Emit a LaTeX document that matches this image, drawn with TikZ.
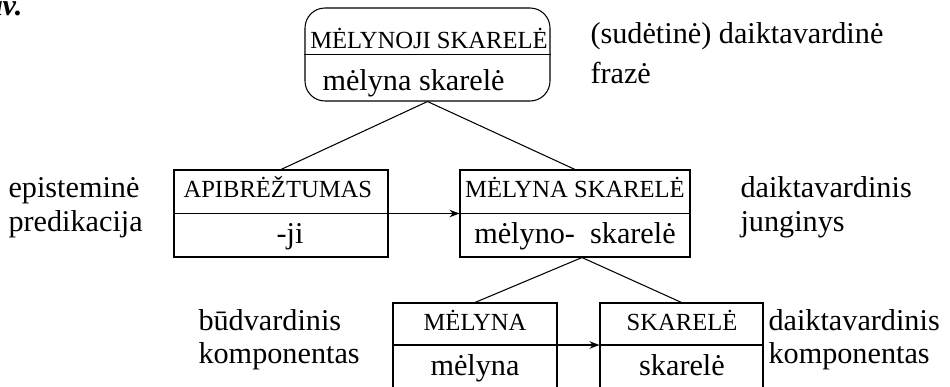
\documentclass[tikz,border=0pt]{standalone}
\usepackage{fontspec}
\setmainfont{Liberation Serif}
\usetikzlibrary{arrows.meta}

% body text size and the smaller capitals used for the semantic labels
\newcommand{\bodysize}{\fontsize{17.2}{20}\selectfont}
\newcommand{\capsize}{\fontsize{14}{16}\selectfont}

\tikzset{
  box/.style={draw, rectangle, inner sep=0pt, minimum width=0.02cm*#1},
  lbl/.style={anchor=base west, inner sep=0pt, font=\bodysize},
  ctr/.style={anchor=base, inner sep=0pt, font=\bodysize},
  capw/.style={anchor=base west, inner sep=0pt, font=\capsize},
  capc/.style={anchor=base, inner sep=0pt, font=\capsize},
  arr/.style={-{Stealth[length=0.2cm, width=0.15cm]}},
}

\begin{document}
\begin{tikzpicture}[x=0.02cm, y=-0.02cm, line width=0.6pt]
\useasboundingbox (0,0) rectangle (950,386);
\clip (0,0) rectangle (950,386);

% running text cut off at the top
\node[anchor=base east, inner sep=0pt, font=\bodysize\itshape\bfseries] (av) at (23,15) {av.};

% boxes (the lowest row runs past the bottom edge)
\node[box=245, minimum height=0.02cm*93, rounded corners=0.4cm] (top) at (427.5,54.5) {};
\node[box=214, minimum height=0.02cm*87] (apib) at (281,213.5) {};
\node[box=230, minimum height=0.02cm*87] (ms) at (575,213.5) {};
\node[box=164, minimum height=0.02cm*100] (mel) at (475,353) {};
\node[box=163, minimum height=0.02cm*100] (ska) at (681.5,353) {};
\coordinate (melw) at ([yshift=0.16cm]mel.west);
\coordinate (mele) at ([yshift=0.16cm]mel.east);
\coordinate (skaw) at ([yshift=0.16cm]ska.west);
\coordinate (skae) at ([yshift=0.16cm]ska.east);

% dividers
\draw (top.west) -- (top.east);
\draw (apib.west) -- (apib.east);
\draw (ms.west) -- (ms.east);
\draw (melw) -- (mele);
\draw (skaw) -- (skae);

% box texts
\node[capc] (t1) at (429,48) {MĖLYNOJI SKARELĖ};
\node[lbl] (t2) at (322,90) {mėlyna skarelė};
\node[capw] (a1) at (183,197) {APIBRĖŽTUMAS};
\node[ctr] (a2) at (290,243) {-ji};
\node[capc] (m1) at (575,197) {MĖLYNA SKARELĖ};
\node[ctr] (m2) at (575,243) {mėlyno-\ \ skarelė};
\node[capc] (b1) at (475,330) {MĖLYNA};
\node[ctr] (b2) at (475,375) {mėlyna};
\node[capc] (s1) at (682,330) {SKARELĖ};
\node[ctr] (s2) at (682,375) {skarelė};

% side labels
\node[lbl] (l1) at (590,43) {(sudėtinė) daiktavardinė};
\node[lbl] (l2) at (590,83) {frazė};
\node[lbl] (l3) at (8,197) {episteminė};
\node[lbl] (l4) at (8,231) {predikacija};
\node[lbl] (l5) at (740,197) {daiktavardinis};
\node[lbl] (l6) at (740,231) {junginys};
\node[lbl] (l7) at (198,330) {būdvardinis};
\node[lbl] (l8) at (198,363) {komponentas};
\node[lbl] (l9) at (768,330) {daiktavardinis};
\node[lbl] (l10) at (768,363) {komponentas};

% tree branches
\draw (top.south) -- (apib.north);
\draw (top.south) -- (ms.north);
\draw ([xshift=0.14cm]ms.south) -- (mel.north);
\draw ([xshift=0.14cm]ms.south) -- (ska.north);

% arrows
\draw[arr] (apib.east) -- (ms.west);
\draw[arr] (mele) -- (skaw);
\end{tikzpicture}
\end{document}
